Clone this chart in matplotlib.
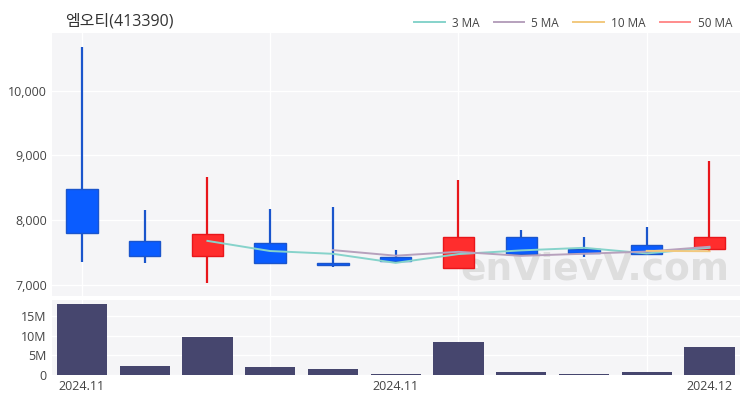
import numpy as np
import matplotlib
matplotlib.use("Agg")
import matplotlib.pyplot as plt
from matplotlib.lines import Line2D

plt.rcParams['font.family'] = ['Open Sans', 'Noto Sans CJK KR', 'DejaVu Sans']

title = "엠오티(413390)"
opens = [8480, 7670, 7440, 7640, 7340, 7430, 7260, 7740, 7550, 7610, 7550]
highs = [10670, 8150, 8660, 8170, 8200, 7540, 8620, 7840, 7740, 7890, 8910]
lows = [7350, 7330, 7020, 7330, 7270, 7330, 7260, 7480, 7430, 7470, 7500]
closes = [7800, 7440, 7790, 7330, 7310, 7370, 7740, 7480, 7490, 7480, 7740]
volumes = [18.0e6, 2.3e6, 9.6e6, 2.0e6, 1.5e6, 0.3e6, 8.4e6, 0.8e6, 0.3e6, 0.8e6, 7.1e6]
ma3 = [np.nan, np.nan, 7677, 7520, 7477, 7337, 7473, 7530, 7570, 7483, 7570]
ma5 = [np.nan, np.nan, np.nan, np.nan, 7534, 7448, 7508, 7446, 7478, 7512, 7586]
ma10 = [np.nan] * 9 + [7523, 7517]
xtick_pos = [0, 5, 10]
xtick_labels = ["2024.11", "2024.11", "2024.12"]

UP = "#ff2d2d"
UP_EDGE = "#e8161b"
DOWN = "#0a5cff"
DOWN_EDGE = "#1a55cc"
BG = "#f5f5f7"
TXT = "#444444"

fig = plt.figure(figsize=(7.5, 4), dpi=100)
ax = fig.add_axes([0.069, 0.26, 0.918, 0.6575])
axv = fig.add_axes([0.069, 0.0625, 0.918, 0.1875])

x = np.arange(len(opens))
for a in (ax, axv):
    a.set_facecolor(BG)
    for s in a.spines.values():
        s.set_visible(False)
    a.set_xlim(-0.48, 10.49)
    for gx in [0, 3, 6, 9]:
        a.axvline(gx, color="white", linewidth=1, zorder=0)
    a.tick_params(length=0, colors=TXT, labelsize=9)

# candles
for i in x:
    o, h, l, c = opens[i], highs[i], lows[i], closes[i]
    up = c >= o
    fc = UP if up else DOWN
    ec = UP_EDGE if up else DOWN_EDGE
    ax.vlines(i, l, h, color=ec, linewidth=1.6, zorder=2)
    ax.bar(i, max(abs(c - o), 15), bottom=min(o, c), width=0.5,
           color=fc, edgecolor=ec, linewidth=1, zorder=3)

ax.plot(x, ma3, color="#86d3cb", linewidth=1.4, zorder=4)
ax.plot(x, ma5, color="#b7a1bd", linewidth=1.4, zorder=4)
ax.plot(x, ma10, color="#f2c97e", linewidth=1.4, zorder=4)

ax.set_ylim(6825, 10890)
ax.set_yticks([7000, 8000, 9000, 10000])
ax.set_yticklabels(["7,000", "8,000", "9,000", "10,000"])
ax.grid(axis="y", color="white", linewidth=1)
ax.set_axisbelow(True)
ax.set_xticks([])

# watermark
ax.text(0.593, 0.10, "enVievV.com", transform=ax.transAxes, fontsize=27,
        fontweight="bold", color="#dadada", alpha=0.85, family="DejaVu Sans",
        zorder=1, va="center", ha="left")

# volume
axv.bar(x, volumes, width=0.8, color="#46466e", zorder=3)
axv.set_ylim(0, 19.0e6)
axv.set_yticks([0, 5e6, 10e6, 15e6])
axv.set_yticklabels(["0", "5M", "10M", "15M"])
axv.grid(axis="y", color="white", linewidth=1)
axv.set_axisbelow(True)
axv.set_xticks(xtick_pos)
axv.set_xticklabels(xtick_labels)

fig.text(0.087, 0.945, title, fontsize=11.5, color="#333333", va="center")

handles = [Line2D([], [], color=c, linewidth=1.4) for c in
           ["#86d3cb", "#b7a1bd", "#f2c97e", "#ff8c8c"]]
fig.legend(handles, ["3 MA", "5 MA", "10 MA", "50 MA"], loc="upper right",
           bbox_to_anchor=(0.99, 0.985), ncol=4, frameon=False, fontsize=8.5,
           handlelength=2.6, columnspacing=1.2, handletextpad=0.6, labelcolor=TXT)

fig.savefig("out.png", dpi=100)
